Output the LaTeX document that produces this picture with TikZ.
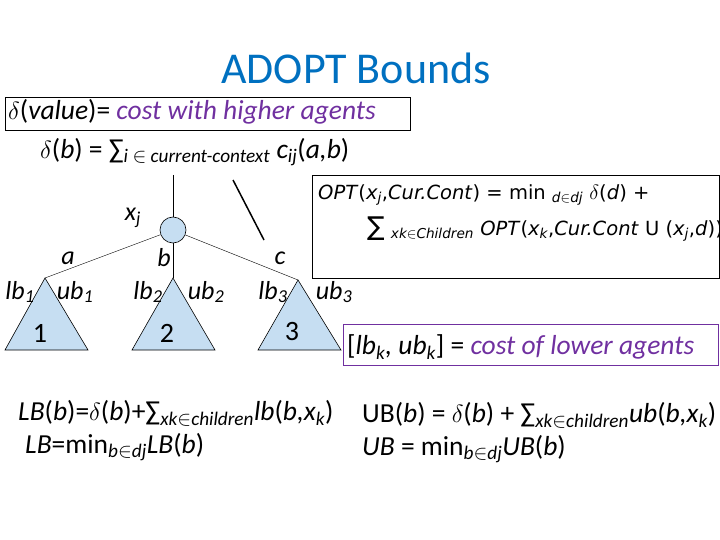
\documentclass[tikz,border=0pt]{standalone}
\usepackage{fontspec}
\setmainfont{Carlito}
\newfontfamily\vfont{DejaVu Sans}
\definecolor{ttl}{RGB}{0,112,192}
\definecolor{purp}{RGB}{112,48,160}
\definecolor{fillb}{RGB}{198,222,242}
\begin{document}
\begin{tikzpicture}[x=1pt,y=-1pt,
  tri/.style={draw,fill=fillb,line width=0.6pt},
  lbl/.style={font=\fontsize{26}{28}\selectfont\itshape,inner sep=1pt},
  txt/.style={font=\fontsize{27.5}{30}\selectfont,anchor=west,inner sep=0pt},
  num/.style={font=\fontsize{28}{30}\selectfont,inner sep=0pt}]
\useasboundingbox (0,0) rectangle (720,540);
\node[font=\fontsize{44}{48}\selectfont,text=ttl] (title) at (356,68) {ADOPT Bounds};
\draw[line width=0.8pt] (5,97) rectangle (410,130);
\node[txt] (t1) at (8,112) {$\delta$(\textit{value})= \textcolor{purp}{\textit{cost with higher agents}}};
\node[txt] (t2) at (40,152) {$\delta$(\textit{b}) = ∑\textsubscript{\textit{i} $\in$ \textit{current-context}} \textit{c}\textsubscript{\textit{ij}}(\textit{a,b})};
% tree
\coordinate (top) at (173,175);
\node[circle,draw,fill=fillb,minimum size=26pt,inner sep=0pt,line width=0.6pt] (xj) at (173,230) {};
\draw (top) -- (xj.north);
\coordinate (a1) at (45,278); \coordinate (a2) at (173,278); \coordinate (a3) at (298,280);
\draw (xj) -- (a1); \draw (xj) -- (a2); \draw (xj) -- (a3);
\draw[tri] (a1) -- (88,350) -- (5,350) -- cycle;
\draw[tri] (a2) -- (215,350) -- (132,350) -- cycle;
\draw[tri] (a3) -- (341,350) -- (258,350) -- cycle;
\node[num] (n1) at (40,333) {1};
\node[num] (n2) at (167,333) {2};
\node[num] (n3) at (292,332) {3};
\node[lbl] (lxj) at (133,218) {x\textsubscript{\textit{j}}};
\node[lbl] (la) at (68,258) {a};
\node[lbl] (lb) at (164,258) {b};
\node[lbl] (lc) at (280,258) {c};
\node[lbl] (lb1) at (20,292) {lb\textsubscript{\textit{1}}};
\node[lbl] (ub1) at (75,292) {ub\textsubscript{\textit{1}}};
\node[lbl] (lb2) at (148,292) {lb\textsubscript{2}};
\node[lbl] (ub2) at (206,292) {ub\textsubscript{2}};
\node[lbl] (lb3) at (273,292) {lb\textsubscript{3}};
\node[lbl] (ub3) at (334,292) {ub\textsubscript{3}};
\coordinate (s1) at (233,180); \coordinate (s2) at (264,240);
\draw[line width=1.5pt] (s1) -- (s2);
% OPT box
\draw[line width=0.8pt] (312,175) rectangle (719,278);
\node[anchor=west,inner sep=0pt,font=\vfont\fontsize{19.5}{22}\selectfont] (o1) at (318,195) {\textit{OPT}(\textit{x\textsubscript{j}},\textit{Cur.Cont}) = min \textsubscript{\textit{d$\in$dj}} $\delta$(\textit{d}) +};
\node[anchor=west,inner sep=0pt,font=\vfont\fontsize{19.5}{22}\selectfont] (o2) at (367,229) {{\fontsize{26}{26}\selectfont ∑} \textsubscript{\textit{xk$\in$Children}} \textit{OPT}(\textit{x\textsubscript{k}},\textit{Cur.Cont} U (\textit{x\textsubscript{j}},\textit{d}))};
\draw[purp,line width=0.8pt] (343,324) rectangle (718,365);
\node[txt] (lbk) at (347,347) {[\textit{lb\textsubscript{k}, ub\textsubscript{k}}] = \textcolor{purp}{\textit{cost of lower agents}}};
\node[txt] (lbb) at (18,413) {\textit{LB}(\textit{b})=$\delta$(\textit{b})+∑\textsubscript{\textit{xk$\in$children}}\textit{lb}(\textit{b,x\textsubscript{k}})};
\node[txt] (lbm) at (25,447) {\textit{LB}=min\textsubscript{\textit{b$\in$dj}}\textit{LB}(\textit{b})};
\node[txt] (ubb) at (362,415) {UB(\textit{b}) = $\delta$(\textit{b}) + ∑\textsubscript{\textit{xk$\in$children}}\textit{ub}(\textit{b,x\textsubscript{k}})};
\node[txt] (ubm) at (362,449) {\textit{UB} = min\textsubscript{\textit{b$\in$dj}}\textit{UB}(\textit{b})};
\end{tikzpicture}
\end{document}
